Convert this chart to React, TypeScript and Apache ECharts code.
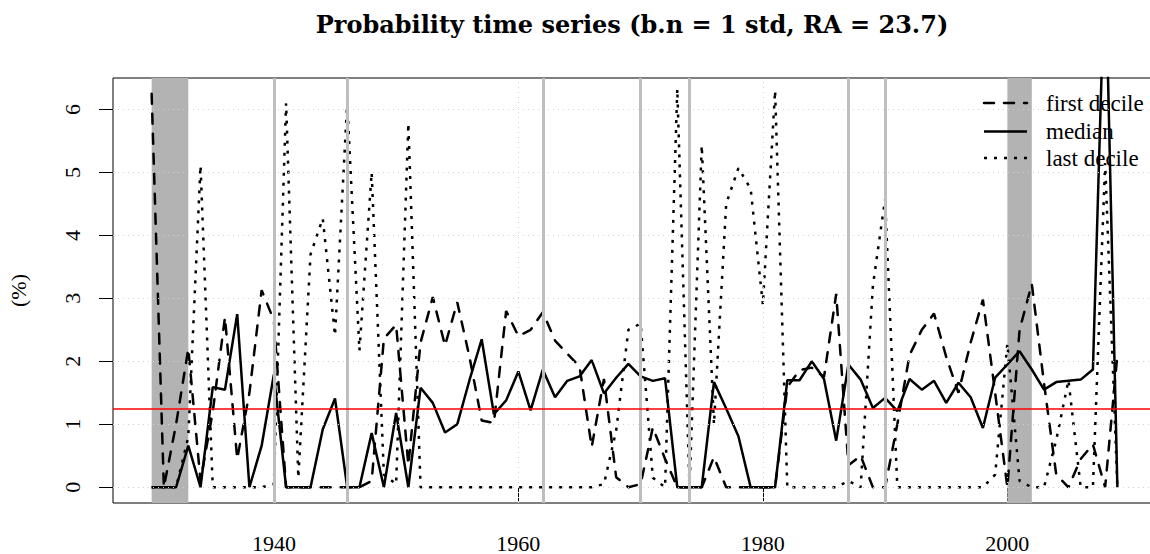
import React, { useEffect, useRef } from "react";
import * as echarts from "echarts";

const years = [
  1930, 1931, 1932, 1933, 1934, 1935, 1936, 1937, 1938, 1939,
  1940, 1941, 1942, 1943, 1944, 1945, 1946, 1947, 1948, 1949,
  1950, 1951, 1952, 1953, 1954, 1955, 1956, 1957, 1958, 1959,
  1960, 1961, 1962, 1963, 1964, 1965, 1966, 1967, 1968, 1969,
  1970, 1971, 1972, 1973, 1974, 1975, 1976, 1977, 1978, 1979,
  1980, 1981, 1982, 1983, 1984, 1985, 1986, 1987, 1988, 1989,
  1990, 1991, 1992, 1993, 1994, 1995, 1996, 1997, 1998, 1999,
  2000, 2001, 2002, 2003, 2004, 2005, 2006, 2007, 2008, 2009,
];

const firstDecile = [
  6.25, 0, 1.0, 2.2, 0.1, 1.2, 2.7, 0.45, 1.5, 3.13,
  2.65, 0, 0, 0, 0, 0, 0, 0, 0.1, 2.36,
  2.58, 0.35, 2.3, 3.02, 2.25, 2.94, 2.07, 1.06, 1.02, 2.8,
  2.4, 2.5, 2.78, 2.33, 2.12, 1.92, 0.64, 1.72, 0.16, 0,
  0.05, 0.95, 0.45, 0, 0, 0, 0.48, 0, 0, 0,
  0, 0, 1.59, 1.86, 1.9, 1.75, 3.07, 0.35, 0.5, 0,
  0, 1.0, 2.1, 2.5, 2.76, 2.07, 1.5, 2.3, 2.98, 1.5,
  0, 2.5, 3.23, 1.65, 0.2, 0, 0.45, 0.68, 0, 2.1,
];

const median = [
  0, 0, 0, 0.66, 0, 1.59, 1.55, 2.75, 0, 0.66,
  1.79, 0, 0, 0, 0.92, 1.41, 0, 0, 0.86, 0,
  1.18, 0, 1.58, 1.34, 0.87, 1.0, 1.7, 2.35, 1.16, 1.38,
  1.84, 1.22, 1.87, 1.43, 1.69, 1.76, 2.02, 1.49, 1.74, 1.96,
  1.76, 1.69, 1.73, 0, 0, 0, 1.67, 1.25, 0.81, 0,
  0, 0, 1.7, 1.7, 2.0, 1.72, 0.74, 1.95, 1.71, 1.26,
  1.42, 1.21, 1.72, 1.55, 1.69, 1.34, 1.66, 1.43, 0.94, 1.74,
  1.95, 2.16, 1.87, 1.55, 1.67, 1.69, 1.71, 1.87, 8.5, 0,
];

const lastDecile = [
  0, 0, 0, 0.8, 5.11, 0, 0, 0, 0, 0,
  0.05, 6.1, 0.15, 3.7, 4.27, 2.41, 6.12, 2.17, 5.0, 0.2,
  0.05, 5.78, 0, 0, 0, 0, 0, 0, 0, 0,
  0, 0, 0, 0, 0, 0, 0, 0.05, 0.9, 2.5,
  2.6, 0.15, 0, 6.33, 0, 5.43, 1.0, 4.5, 5.07, 4.74,
  2.9, 6.3, 0, 0, 0, 0, 0, 0.1, 0, 3.2,
  4.58, 0, 0, 0, 0, 0, 0, 0, 0, 0.2,
  2.28, 0.1, 0, 0, 0.75, 1.7, 0, 0, 5.15, 0,
];

const xTicks = [1940, 1960, 1980, 2000];
const yTicks = [0, 1, 2, 3, 4, 5, 6];
const shadedPeriods = [
  [1930, 1933],
  [2000, 2002],
];
const eventYears = [1940, 1946, 1962, 1970, 1974, 1987, 1990];
const referenceLevel = 1.25;

const titleText = "Probability time series (b.n = 1 std, RA = 23.7)";
const legendNames = ["first decile", "median", "last decile"];

const FONT = '"Liberation Serif", "DejaVu Serif", serif';

export default function App() {
  const ref = useRef<HTMLDivElement>(null);

  useEffect(() => {
    if (!ref.current) return;
    const chart = echarts.init(ref.current, undefined, { renderer: "svg" });

    const pairs = (vals: number[]) => years.map((y, i) => [y, vals[i]]);

    const legendX1 = 984;
    const legendX2 = 1027;
    const legendTextX = 1046;
    const legendRows = [103, 131.5, 158];
    const legendDash: any[] = [[10, 10], null, [3, 7]];

    const graphic: any[] = [
      {
        type: "text",
        id: "title",
        x: 632,
        y: 24,
        style: {
          text: titleText,
          textAlign: "center",
          textVerticalAlign: "middle",
          fontSize: 24,
          fontWeight: "bold",
          fontFamily: '"DejaVu Serif", serif',
          fill: "#000",
        },
        z: 100,
      },
    ];
    legendNames.forEach((name, i) => {
      graphic.push({
        type: "line",
        id: "legline" + i,
        shape: { x1: legendX1, y1: legendRows[i], x2: legendX2, y2: legendRows[i] },
        style: {
          stroke: "#000",
          lineWidth: 2.5,
          lineDash: legendDash[i] || undefined,
          lineCap: i === 0 ? "round" : "butt",
        },
        z: 100,
      });
      graphic.push({
        type: "text",
        id: "legtext" + i,
        x: legendTextX,
        y: legendRows[i],
        style: {
          text: name,
          textAlign: "left",
          textVerticalAlign: "middle",
          fontSize: 23,
          fontFamily: FONT,
          fill: "#000",
        },
        z: 100,
      });
    });

    chart.setOption({
      animation: false,
      backgroundColor: "#fff",
      grid: {
        left: 113,
        top: 78,
        width: 1043,
        height: 425,
        show: true,
        borderColor: "#000",
        borderWidth: 1,
        backgroundColor: "transparent",
        outerBoundsMode: "none",
        containLabel: false,
      },
      xAxis: {
        type: "value",
        min: 1926.84,
        max: 2012.16,
        axisLine: { show: false },
        axisTick: {
          show: true,
          customValues: xTicks,
          length: 14,
          lineStyle: { color: "#000", width: 1 },
        },
        axisLabel: {
          customValues: xTicks,
          margin: 29,
          fontSize: 22,
          fontFamily: FONT,
          color: "#000",
          formatter: (v: number) => String(v),
        },
        splitLine: { show: false },
      },
      yAxis: {
        type: "value",
        min: -0.25,
        max: 6.5,
        name: "(%)",
        nameLocation: "middle",
        nameGap: 84,
        nameRotate: 90,
        nameTextStyle: { fontSize: 22, fontFamily: FONT, color: "#000" },
        axisLine: { show: false },
        axisTick: {
          show: true,
          customValues: yTicks,
          length: 14,
          lineStyle: { color: "#000", width: 1 },
        },
        axisLabel: { show: false },
        splitLine: { show: false },
      },
      graphic,
      series: [
        {
          type: "line",
          name: "shading",
          data: [],
          silent: true,
          z: 1,
          markArea: {
            silent: true,
            itemStyle: { color: "#b3b3b3" },
            data: shadedPeriods.map((p) => [{ xAxis: p[0] }, { xAxis: p[1] }]),
          },
        },
        {
          type: "line",
          name: "grid",
          data: [],
          silent: true,
          z: 2,
          markLine: {
            silent: true,
            symbol: ["none", "none"],
            label: { show: false },
            lineStyle: { color: "#d3d3d3", width: 1, type: [1, 4] },
            data: [
              ...xTicks.map((x) => ({ xAxis: x })),
              ...yTicks.map((y) => ({ yAxis: y })),
            ],
          },
        },
        {
          type: "line",
          name: "events",
          data: [],
          silent: true,
          z: 2,
          markLine: {
            silent: true,
            symbol: ["none", "none"],
            label: { show: false },
            lineStyle: { color: "#bebebe", width: 3, type: "solid" },
            data: eventYears.map((x) => ({ xAxis: x })),
          },
        },
        {
          type: "line",
          name: legendNames[0],
          data: pairs(firstDecile),
          showSymbol: false,
          symbol: "none",
          z: 3,
          lineStyle: { color: "#000", width: 2.5, type: [10, 10], cap: "round" },
        },
        {
          type: "line",
          name: legendNames[1],
          data: pairs(median),
          showSymbol: false,
          symbol: "none",
          z: 3,
          lineStyle: { color: "#000", width: 2.5, type: "solid" },
        },
        {
          type: "line",
          name: legendNames[2],
          data: pairs(lastDecile),
          showSymbol: false,
          symbol: "none",
          z: 3,
          lineStyle: { color: "#000", width: 2.5, type: [3, 7], cap: "butt" },
        },
        {
          type: "line",
          name: "reference",
          data: [],
          silent: true,
          z: 4,
          markLine: {
            silent: true,
            symbol: ["none", "none"],
            label: { show: false },
            lineStyle: { color: "#ff0000", width: 1.5, type: "solid" },
            data: [{ yAxis: referenceLevel }],
          },
        },
      ],
    });

    // y tick labels, rotated as in the reference, placed through the y scale
    const yLabelGraphics = yTicks.map((v) => {
      const py = chart.convertToPixel({ yAxisIndex: 0 }, v) as number;
      return {
        type: "text",
        id: "ylab" + v,
        x: 72,
        y: py,
        rotation: Math.PI / 2,
        style: {
          text: String(v),
          textAlign: "center",
          textVerticalAlign: "middle",
          fontSize: 22,
          fontFamily: FONT,
          fill: "#000",
        },
        z: 100,
      };
    });
    chart.setOption({ graphic: [...graphic, ...yLabelGraphics] });

    return () => chart.dispose();
  }, []);

  return (
    <div
      ref={ref}
      style={{ position: "fixed", left: 0, top: 0, width: 1150, height: 554 }}
    />
  );
}
